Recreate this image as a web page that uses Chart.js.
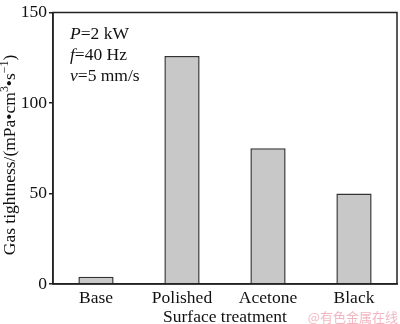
<!DOCTYPE html>
<html>
<head>
<meta charset="utf-8">
<script src="https://cdn.jsdelivr.net/npm/chart.js@4"></script>
<style>
  html, body { margin: 0; padding: 0; background: #fff; }
  #wrap { width: 400px; height: 324px; }
</style>
</head>
<body>
<div id="wrap"><canvas id="gasChart" width="400" height="324"></canvas></div>
<script>
// surface treatments and measured gas tightness
var treatments = ["Base", "Polished", "Acetone", "Black"];
var tightness = [4, 126, 75, 50];
var yTicks = [0, 50, 100, 150];

var serif = "'Liberation Serif', 'Times New Roman', serif";
var fs = 17.5;

// draws a run of text pieces, some italic or raised
function drawRuns(ctx, runs, x, y, size) {
  runs.forEach(function (r) {
    var s = r.sup ? size * 0.68 : size;
    ctx.font = (r.italic ? "italic " : "") + s + "px " + serif;
    ctx.fillText(r.t, x, r.sup ? y - size * 0.38 : y);
    x += ctx.measureText(r.t).width;
  });
  return x;
}

function runsWidth(ctx, runs, size) {
  var w = 0;
  runs.forEach(function (r) {
    var s = r.sup ? size * 0.68 : size;
    ctx.font = (r.italic ? "italic " : "") + s + "px " + serif;
    w += ctx.measureText(r.t).width;
  });
  return w;
}

// frame, axis titles, process parameters and the source mark
var extras = {
  id: "extras",
  afterDraw: function (chart) {
    var ctx = chart.ctx;
    var a = chart.chartArea;
    ctx.save();
    ctx.strokeStyle = "#222";
    ctx.lineWidth = 1.5;
    ctx.strokeRect(a.left, a.top, a.right - a.left, a.bottom - a.top);

    ctx.fillStyle = "#111";
    ctx.textBaseline = "alphabetic";
    ctx.textAlign = "left";

    // parameters in the upper left
    drawRuns(ctx, [{ t: "P", italic: true }, { t: "=2 kW" }], 70, 39, fs);
    drawRuns(ctx, [{ t: "f", italic: true }, { t: "=40 Hz" }], 70, 60, fs);
    drawRuns(ctx, [{ t: "v", italic: true }, { t: "=5 mm/s" }], 70, 81, fs);

    // x title
    ctx.font = fs + "px " + serif;
    ctx.textAlign = "center";
    ctx.fillText("Surface treatment", (a.left + a.right) / 2, 322);

    // y title, rotated
    var yRuns = [
      { t: "Gas tightness/(mPa\u2022cm" },
      { t: "3", sup: true },
      { t: "\u2022s" },
      { t: "\u22121", sup: true },
      { t: ")" }
    ];
    ctx.textAlign = "left";
    var w = runsWidth(ctx, yRuns, fs);
    ctx.translate(15, 155);
    ctx.rotate(-Math.PI / 2);
    drawRuns(ctx, yRuns, -w / 2, 0, fs);
    ctx.setTransform(1, 0, 0, 1, 0, 0);

    // source mark
    ctx.fillStyle = "#f2b6c0";
    ctx.font = "13px 'Noto Sans CJK SC', sans-serif";
    ctx.textAlign = "right";
    ctx.fillText("@有色金属在线", 398, 322);
    ctx.restore();
  }
};

var ctx = document.getElementById("gasChart").getContext("2d");

new Chart(ctx, {
  type: "bar",
  data: {
    labels: treatments,
    datasets: [
      {
        data: tightness,
        backgroundColor: "#c8c8c8",
        borderColor: "#333",
        borderWidth: 1.5,
        categoryPercentage: 1,
        barPercentage: 0.41
      }
    ]
  },
  options: {
    responsive: false,
    animation: false,
    layout: { padding: { top: 5, right: 3, left: 0, bottom: 0 } },
    plugins: {
      legend: { display: false },
      tooltip: { enabled: false }
    },
    scales: {
      x: {
        grid: { display: false, drawTicks: false },
        border: { display: true, color: "#222", width: 1.5 },
        ticks: {
          color: "#111",
          padding: 4,
          font: { family: serif, size: fs }
        },
        afterFit: function (s) { s.height = 40; }
      },
      y: {
        min: 0,
        max: 150,
        afterBuildTicks: function (s) {
          s.ticks = yTicks.map(function (v) { return { value: v }; });
        },
        grid: {
          drawOnChartArea: false,
          drawTicks: true,
          tickLength: 4,
          tickColor: "#222",
          lineWidth: 1.5
        },
        border: { display: true, color: "#222", width: 1.5 },
        ticks: {
          color: "#111",
          padding: 2,
          font: { family: serif, size: fs }
        },
        afterFit: function (s) { s.width = 53; }
      }
    }
  },
  plugins: [extras]
});
</script>
</body>
</html>
